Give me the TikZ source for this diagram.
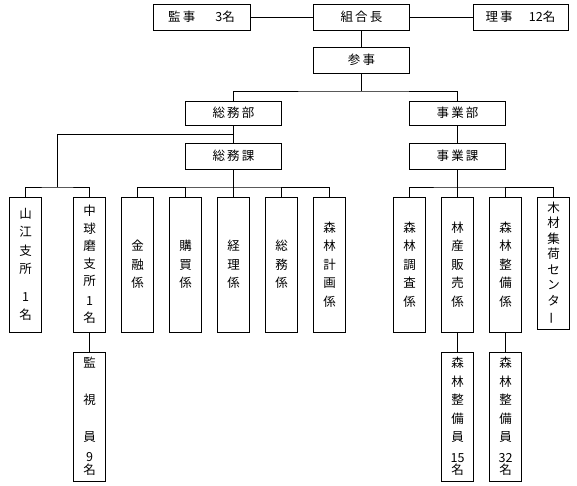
\documentclass[tikz,border=0pt]{standalone}
\usepackage{fontspec}
\usepackage{graphicx}
\newfontfamily\jpfont{Noto Sans CJK JP}

\begin{document}
\begin{tikzpicture}[x=1pt,y=-1pt,line width=0.9pt,
  every node/.style={font=\jpfont\fontsize{12.5}{18.5}\selectfont},
  yokobox/.style={draw,minimum width=96pt,minimum height=26pt,inner sep=0pt},
  tatebox/.style={draw,minimum width=32pt,minimum height=135pt,inner sep=0pt,align=center},
  shitabox/.style={draw,minimum width=32pt,minimum height=129pt,inner sep=0pt,align=center}]
\useasboundingbox (0,0) rectangle (577,485);
% top
\node[yokobox,minimum width=97pt] (kansa) at (201.5,17) {監\,事\hspace{1.6em}3名};
\node[yokobox] (kumiaicho) at (361.5,17) {組\,合\,長};
\node[yokobox,minimum width=95pt] (riji) at (520.5,17) {理\,事\hspace{1.3em}12名};
\node[yokobox] (sanji) at (361.5,60) {参\,事};
\draw (kansa) -- (kumiaicho) -- (riji);
\draw (kumiaicho) -- (sanji);
% bu / ka
\node[yokobox,minimum height=24pt] (somubu) at (233.5,113) {総\,務\,部};
\node[yokobox,minimum height=24pt] (jigyobu) at (457.5,113) {事\,業\,部};
\node[yokobox] (somuka) at (233.5,156) {総\,務\,課};
\node[yokobox] (jigyoka) at (457.5,156) {事\,業\,課};
\coordinate (bus1) at (361.5,91);
\draw (sanji) -- (bus1);
\draw (somubu.north) |- (bus1) -| (jigyobu.north);
\draw (somubu) -- (somuka);
\draw (jigyobu) -- (jigyoka);
% kakari
\node[tatebox] (yamae) at (25.5,264.5) {山\\江\\支\\所\\[9pt]1\\名};
\node[tatebox,font=\jpfont\fontsize{12.5}{17.5}\selectfont] (nakakuma) at (89.5,264.5) {中\\球\\磨\\支\\所\\[2pt]1\\名};
\node[tatebox] (kinyu) at (137.5,264.5) {金\\融\\係};
\node[tatebox] (kobai) at (185.5,264.5) {購\\買\\係};
\node[tatebox] (keiri) at (233.5,264.5) {経\\理\\係};
\node[tatebox] (somugakari) at (281.5,264.5) {総\\務\\係};
\node[tatebox] (keikaku) at (329.5,264.5) {森\\林\\計\\画\\係};
\node[tatebox] (chosa) at (409.5,264.5) {森\\林\\調\\査\\係};
\node[tatebox] (hanbai) at (457.5,264.5) {林\\産\\販\\売\\係};
\node[tatebox] (seibi) at (505.5,264.5) {森\\林\\整\\備\\係};
\node[tatebox,minimum height=132pt,font=\jpfont\fontsize{12.5}{15.5}\selectfont] (mokuzai) at (553.5,263) {木\\材\\集\\荷\\セ\\ン\\タ\\\rotatebox[origin=c]{90}{ー}};
% shisho
\coordinate (br) at (233.5,134);
\coordinate (shisho) at (57.5,187);
\draw (br) -| (shisho);
\draw (yamae.north) |- (shisho) -| (nakakuma.north);
% somuka
\coordinate (bus3) at (233.5,187);
\draw (somuka) -- (bus3);
\draw (kinyu.north) |- (bus3) -| (keikaku.north);
\foreach \n in {kobai,keiri,somugakari}
  \draw (\n.north) -- (\n.north |- bus3);
% jigyoka
\coordinate (bus4) at (457.5,187);
\draw (jigyoka) -- (bus4);
\draw (chosa.north) |- (bus4) -| (mokuzai.north);
\foreach \n in {hanbai,seibi}
  \draw (\n.north) -- (\n.north |- bus4);
% bottom
\node[shitabox] (kanshi) at (89.5,416.5) {監\\ \\視\\ \\員\\[1.5pt]9\\[-5.5pt]名};
\node[shitabox] (seibiA) at (457.5,416.5) {森\\林\\整\\備\\員\\[2pt]15\\[-6pt]名};
\node[shitabox] (seibiB) at (505.5,416.5) {森\\林\\整\\備\\員\\[2pt]32\\[-6pt]名};
\draw (nakakuma) -- (kanshi);
\draw (hanbai) -- (seibiA);
\draw (seibi) -- (seibiB);
\end{tikzpicture}
\end{document}
